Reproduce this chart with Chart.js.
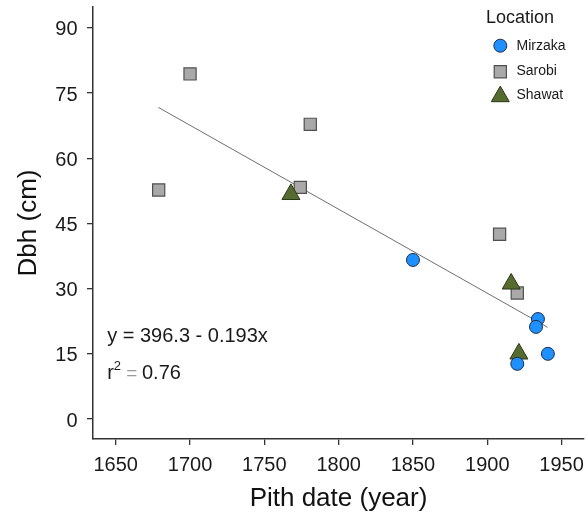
<!DOCTYPE html>
<html><head><meta charset="utf-8">
<script src="https://cdn.jsdelivr.net/npm/chart.js@4.4.0/dist/chart.umd.min.js"></script>
<style>html,body{margin:0;padding:0;background:#fff}</style>
</head><body>
<canvas id="c" width="588" height="521"></canvas>
<script>
// ---- data ----
const mirzakaYear = [1850.0, 1934.1, 1932.8, 1920.2, 1940.8];
const mirzakaDbh  = [36.6, 23.0, 21.2, 12.7, 15.0];
const sarobiYear  = [1678.9, 1700.0, 1774.2, 1780.9, 1908.3, 1920.2];
const sarobiDbh   = [52.7, 79.4, 53.3, 67.8, 42.5, 29.0];
const shawatYear  = [1767.9, 1916.1, 1921.3];
const shawatDbh   = [51.7, 31.1, 15.0];
const fitYear = [1678.7, 1940.6];
const fitDbh  = [71.7, 21.1];
const xTicks = [1650, 1700, 1750, 1800, 1850, 1900, 1950];
const yTicks = [0, 15, 30, 45, 60, 75, 90];
const seriesNames = ['Mirzaka', 'Sarobi', 'Shawat'];
const legendTitle = 'Location';
const xTitle = 'Pith date (year)';
const yTitle = 'Dbh (cm)';
const eqText = 'y = 396.3 - 0.193x';
const r2Text = '0.76';

const FONT = '"Liberation Sans", Arial, Helvetica, sans-serif';
const zip = (xs, ys) => xs.map((x, i) => ({x: x, y: ys[i]}));

const styles = [
  {pointStyle: 'circle',   radius: 6.5,  bg: '#1E90FF', border: '#1b2f4a', bw: 1},
  {pointStyle: 'rect',     radius: 8.6,  bg: '#A9A9A9', border: '#505050', bw: 1.2},
  {pointStyle: 'triangle', radius: 10.4, bg: '#556B2F', border: '#2b3719', bw: 1}
];

function mk(name, xs, ys, st, order) {
  return {
    label: name, data: zip(xs, ys), order: order,
    pointStyle: st.pointStyle, pointRadius: st.radius, pointHoverRadius: st.radius,
    pointBackgroundColor: st.bg, pointBorderColor: st.border, pointBorderWidth: st.bw,
    showLine: false
  };
}

function drawMarker(ctx, st, x, y) {
  ctx.save();
  ctx.fillStyle = st.bg; ctx.strokeStyle = st.border; ctx.lineWidth = st.bw;
  if (Chart.helpers && Chart.helpers.drawPoint) {
    Chart.helpers.drawPoint(ctx, {pointStyle: st.pointStyle, radius: st.radius, rotation: 0, borderWidth: st.bw}, x, y);
  }
  ctx.restore();
}

const annotPlugin = {
  id: 'annot',
  afterDraw(chart) {
    const ctx = chart.ctx;
    const ca = chart.chartArea;
    ctx.save();
    // legend
    ctx.fillStyle = '#1a1a1a';
    ctx.textBaseline = 'middle';
    ctx.textAlign = 'left';
    ctx.font = '18px ' + FONT;
    ctx.fillText(legendTitle, 486, 18.5);
    ctx.font = '14px ' + FONT;
    const ly = [45.7, 71.7, 96.5];
    const ty = [45.8, 71.5, 95.5];
    seriesNames.forEach((n, i) => {
      drawMarker(ctx, styles[i], 500.3, ly[i]);
      ctx.fillStyle = '#1a1a1a';
      ctx.fillText(n, 516.5, ty[i]);
    });
    // regression annotation
    const x0 = ca.left + 14.2;
    ctx.textBaseline = 'alphabetic';
    ctx.font = '20px ' + FONT;
    ctx.fillStyle = '#1a1a1a';
    ctx.fillText(eqText, x0, 341.7);
    ctx.fillText('r', x0, 379.3);
    const rw = ctx.measureText('r').width;
    ctx.font = '13px ' + FONT;
    ctx.fillText('2', x0 + rw, 369.5);
    ctx.font = '19px ' + FONT;
    ctx.fillStyle = '#9a9a9a';
    ctx.fillText('=', x0 + 19, 379.3);
    ctx.font = '20px ' + FONT;
    ctx.fillStyle = '#1a1a1a';
    ctx.fillText(r2Text, x0 + 34.8, 379.3);
    ctx.restore();
  }
};

new Chart(document.getElementById('c'), {
  type: 'scatter',
  data: {
    datasets: [
      mk(seriesNames[0], mirzakaYear, mirzakaDbh, styles[0], 0),
      mk(seriesNames[1], sarobiYear, sarobiDbh, styles[1], 2),
      mk(seriesNames[2], shawatYear, shawatDbh, styles[2], 1),
      {
        label: 'fit', type: 'line', data: zip(fitYear, fitDbh), order: 3,
        showLine: true, borderColor: '#6e6e6e', borderWidth: 1,
        pointRadius: 0, pointHoverRadius: 0, fill: false, tension: 0
      }
    ]
  },
  options: {
    responsive: false, animation: false, devicePixelRatio: 1,
    layout: {autoPadding: false, padding: {left: 0, right: 4, top: 7, bottom: 0}},
    plugins: {legend: {display: false}, tooltip: {enabled: false}},
    scales: {
      x: {
        type: 'linear', position: 'bottom', min: 1634.7, max: 1965.1,
        afterBuildTicks: s => { s.ticks = xTicks.map(v => ({value: v})); },
        afterFit: s => { s.height = 82; s.paddingLeft = 0; s.paddingRight = 0; },
        grid: {display: true, drawOnChartArea: false, drawTicks: true, tickLength: 6, color: '#333', lineWidth: 1.3},
        border: {display: true, color: '#333', width: 1.5},
        ticks: {font: {family: FONT, size: 20}, color: '#1a1a1a', padding: 8, maxRotation: 0, autoSkip: false,
                callback: v => String(v)},
        title: {display: true, text: xTitle, font: {family: FONT, size: 26}, color: '#111', padding: {top: 0, bottom: 7}}
      },
      y: {
        type: 'linear', position: 'left', min: -4.6, max: 94.8,
        afterBuildTicks: s => { s.ticks = yTicks.map(v => ({value: v})); },
        afterFit: s => { s.width = 93; s.paddingTop = 0; s.paddingBottom = 0; },
        grid: {display: true, drawOnChartArea: false, drawTicks: true, tickLength: 6, color: '#333', lineWidth: 1.3},
        border: {display: true, color: '#333', width: 1.5},
        ticks: {font: {family: FONT, size: 20}, color: '#1a1a1a', padding: 9.5, labelOffset: 2, autoSkip: false,
                callback: v => String(v)},
        title: {display: true, text: yTitle, font: {family: FONT, size: 26}, color: '#111', padding: {top: 13.7, bottom: 0}}
      }
    }
  },
  plugins: [annotPlugin]
});
</script>
</body></html>
